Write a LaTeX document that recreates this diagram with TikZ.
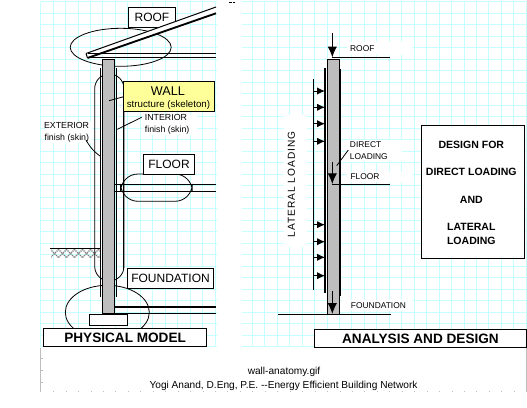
\documentclass[tikz,border=0pt]{standalone}
\usepackage{fontspec}
\setmainfont{Liberation Sans}
\usetikzlibrary{arrows.meta}
\definecolor{gridcy}{RGB}{200,255,255}
\definecolor{wallgray}{RGB}{190,190,190}
\definecolor{wallyel}{RGB}{255,255,153}
\tikzset{
 ln/.style={draw=black,line width=0.75pt},
 thick line/.style={draw=black,line width=1.4pt},
 thin line/.style={draw=black,line width=0.6pt},
 labelbox/.style={draw=black,line width=0.75pt,fill=white,inner sep=0pt,align=center},
 lbl/.style={inner sep=0.5pt,font=\fontsize{6.6}{6.6}\selectfont,align=left,text=black},
 plain lbl/.style={inner sep=0pt,font=\fontsize{6.3}{6.3}\selectfont,align=left},
 bold lbl/.style={inner sep=0pt,font=\fontsize{7.9}{7.9}\selectfont\bfseries,align=center},
 big/.style={font=\fontsize{9}{9}\selectfont},
 title lbl/.style={font=\fontsize{10.2}{10.2}\selectfont\bfseries},
 loadhead/.style={-{Latex[length=6pt,width=5.5pt]},line width=0.75pt},
}
\begin{document}
\begin{tikzpicture}[x=0.75pt,y=-0.75pt]
\useasboundingbox (0,0) rectangle (527,407);
\fill[white] (0,0) rectangle (527,407);
% grid
\foreach \k in {0,...,39}{\draw[gridcy,line width=0.75pt] ({40.7+12.45*\k},1.5) -- ({40.7+12.45*\k},347);}
\foreach \k in {0,...,30}{\draw[gridcy,line width=0.75pt] (40.7,{1.5+11.5*\k}) -- (526,{1.5+11.5*\k});}
\fill[white] (216.5,0) rectangle (242,348);
% white patches behind labels
\fill[white] (347,42) rectangle (412,55);
\fill[white] (347,140) rectangle (402,162);
\fill[white] (347,172) rectangle (412,182);
\fill[white] (342,300) rectangle (412,311);
\fill[white] (284,115) rectangle (307,247);
\fill[white] (143,115) rectangle (197,135);
\fill[white] (45,122) rectangle (92,143);
% footer frame
\draw[wallgray,line width=0.75pt] (40.5,348) -- (40.5,392);
\draw[wallgray,line width=0.75pt] (526,348) -- (526,392);
\foreach \y in {358,370,382}{\draw[wallgray,line width=0.75pt] (40.5,\y) -- (43,\y);}
\foreach \k in {1,...,39}{\fill[wallgray] ({40.7+12.45*\k},391) rectangle ++(1,1);}
\begin{scope}
\clip (0,0) rectangle (527,391);
\node[inner sep=0pt,font=\fontsize{7.6}{7.6}\selectfont] (fname) at (284,372) {wall-anatomy.gif};
\node[inner sep=0pt,font=\fontsize{7.6}{7.6}\selectfont] (author) at (283.5,385.5) {Yogi Anand, D.Eng, P.E. -{}-Energy Efficient Building Network};
\end{scope}
\fill (229,1.5) rectangle ++(3,1);\fill (233,1.5) rectangle ++(2,1);

% LEFT: roof
\node[labelbox,minimum width=35.6pt,minimum height=14.8pt,anchor=north west,big] (roofbox) at (127.7,7.3) {ROOF};
\draw[thin line] (120.7,47.3) ellipse [x radius=50.5,y radius=19];
\coordinate (rfA) at (86,53.5);\coordinate (rfB) at (216,7);
\coordinate (rfC) at (87.5,58);\coordinate (rfD) at (216,13.3);
\fill[white] (rfA) -- (rfB) -- (rfD) -- (rfC) -- cycle;
\draw[ln] (rfA) -- (rfB);
\draw[thick line] (rfC) -- (rfD);
\draw[ln] (rfA) -- (rfC);
\draw[ln] (88,53.3) -- (216,53.3);
\draw[ln] (88,57.7) -- (216,57.7);
% floor slab, capsule
\draw[ln] (114,184.3) -- (216,184.3);
\draw[ln] (114,191.7) -- (216,191.7);
\draw[ln] (120.5,184.3) -- (120.5,191.7);
\draw[ln] (114,184.3) -- (114,191.7);
\draw[thin line,rounded corners=13pt] (120.7,174) rectangle (192.3,201.3);
% ground
\begin{scope}
\clip (51,249) rectangle (100,258);
\foreach \k in {0,...,8}{
 \draw[black!50,line width=0.9pt,dash pattern=on 1pt off 0.6pt] ({42+8*\k},249) -- ({51+8*\k},258);
 \draw[black!50,line width=0.9pt,dash pattern=on 1pt off 0.6pt] ({51+8*\k},249) -- ({42+8*\k},258);
}
\end{scope}
\draw[ln] (50,248) -- (100,248);
% finish lines
\draw[ln] (100.3,68) -- (100.3,297);
\draw[ln] (116.7,68) -- (116.7,297);
\draw[ln] (123.3,81) -- (123.3,270);
\draw[thin line,rounded corners=11pt] (94.7,74) rectangle (124,281);
% foundation ellipse
\draw[thin line] (107.3,312.3) ellipse [x radius=42,y radius=27];
% slab
\draw[thick line] (114,307.3) -- (216,307.3);
\draw[ln] (114,313.3) -- (216,313.3);
\draw[ln] (114,307.3) -- (114,313.3);
% wall
\node[draw=black,line width=0.75pt,fill=wallgray,minimum width=8.55pt,minimum height=190.5pt,inner sep=0pt,anchor=north west] (wallL) at (102.3,59.3) {};
\node[labelbox,minimum width=28pt,minimum height=8.25pt,anchor=north west] (footing) at (89.3,314.3) {};
% wall label
\node[draw=black,line width=0.75pt,fill=wallyel,minimum width=68.3pt,minimum height=22.5pt,inner sep=0pt,anchor=north west] (wallbox) at (123.3,81.3) {};
\node[inner sep=0pt,font=\fontsize{9.5}{9.5}\selectfont] (walltxt) at (168,90.7) {WALL};
\node[inner sep=0pt,font=\fontsize{7.3}{7.3}\selectfont] (walltxt2) at (168.5,105) {structure (skeleton)};
\coordinate (wallp) at (109,100.7);
\draw[thin line] (wallp) -- (wallbox.west);
% interior / exterior
\node[lbl,anchor=west] (intl) at (144,124.5) {INTERIOR\\[2.4pt]finish (skin)};
\coordinate (intp) at (117.3,129.3);\coordinate (intq) at (141.7,117.3);
\draw[thin line] (intp) -- (intq);
\node[lbl,anchor=east,align=right] (extl) at (90,132) {EXTERIOR\\[2.4pt]finish (skin)};
\coordinate (extp) at (86,140);\coordinate (extq) at (100,156);
\draw[thin line] (extp) to[bend right=12] (extq);
% floor & foundation labels
\node[labelbox,minimum width=38.7pt,minimum height=14.5pt,anchor=north west,big] (floorbox) at (142.7,154.3) {FLOOR};
\node[labelbox,minimum width=65pt,minimum height=15pt,anchor=north west,big] (foundbox) at (126.7,268.3) {FOUNDATION};
\node[labelbox,minimum width=122pt,minimum height=13.3pt,anchor=north west,title lbl] (phys) at (43.3,328) {PHYSICAL MODEL};
\node[labelbox,minimum width=158.5pt,minimum height=13pt,anchor=north west,title lbl] (anal) at (314.3,329.3) {ANALYSIS AND DESIGN};

% RIGHT wall
\node[draw=black,line width=0.75pt,fill=wallgray,minimum width=8.55pt,minimum height=191pt,inner sep=0pt,anchor=north west] (wallR) at (327.3,59.3) {};
\draw[thick line] (325,68) -- (325,292.5);
\draw[ln] (340.3,69) -- (340.3,296);
\draw[ln] (313.3,79.3) -- (313.3,290);
\foreach \y in {91,107.3,123.7,141.3,224.7,241.7,257.3,275.7}{\draw[loadhead] (313.3,\y) -- (325,\y);}
% roof load
\coordinate (ra) at (332.3,33.3);\coordinate (rb) at (332.3,57.3);\coordinate (rc) at (390,57.3);
\draw[ln,-{Latex[length=8pt,width=7pt]}] (ra) -- (rb);
\draw[ln] (rb) -- (rc);
\node[plain lbl] (rooft) at (362.3,48.7) {ROOF};
% floor load
\coordinate (fa) at (332.3,162.3);\coordinate (fb) at (332.3,184);\coordinate (fc) at (390,184);
\draw[ln,-{Latex[length=8pt,width=7pt]}] (fa) -- (fb);
\draw[ln] (fb) -- (fc);
\node[plain lbl] (floort) at (365,176.7) {FLOOR};
% direct
\node[plain lbl,anchor=west] (direct) at (349.7,151) {DIRECT\\[2.6pt]LOADING};
\coordinate (dp) at (336.7,165.7);\coordinate (dq) at (348.3,150);
\draw[thin line] (dp) -- (dq);
% foundation load
\coordinate (ga) at (332.3,291.3);\coordinate (gb) at (332.3,313.8);\coordinate (gl) at (278,314.3);\coordinate (gr) at (390.7,314.3);
\draw[ln,-{Latex[length=8pt,width=7pt]}] (ga) -- (gb);
\draw[ln] (gl) -- (gr);
\node[plain lbl,anchor=west] (foundt) at (350.7,305.7) {FOUNDATION};
% lateral
\node[rotate=90,inner sep=0pt,font=\fontsize{7.6}{7.6}\selectfont\addfontfeature{LetterSpace=10}] (lat) at (291.3,184.5) {LATERAL LOADING};
% design box
\node[labelbox,minimum width=77.2pt,minimum height=99.8pt,anchor=north west] (design) at (420.7,125.3) {};
\node[bold lbl] (d1) at (471.3,145) {DESIGN FOR};
\node[bold lbl] (d2) at (471.3,172) {DIRECT LOADING};
\node[bold lbl] (d3) at (471.3,199.7) {AND};
\node[bold lbl] (d4) at (471.3,227) {LATERAL};
\node[bold lbl] (d5) at (471.3,240.7) {LOADING};
\end{tikzpicture}
\end{document}
